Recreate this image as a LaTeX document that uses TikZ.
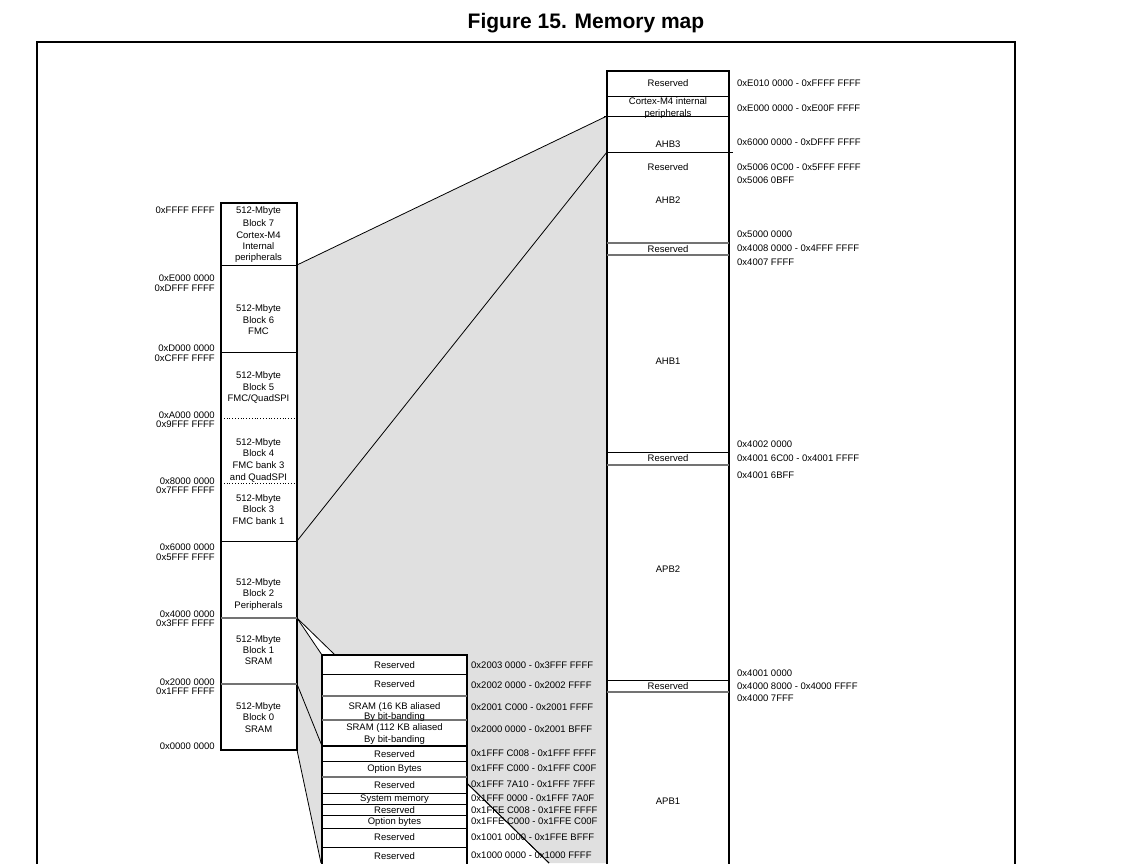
\documentclass[tikz,border=0pt]{standalone}
\usepackage{fontspec}
\setmainfont{Liberation Sans}
\usetikzlibrary{calc}
\begin{document}
\begin{tikzpicture}[x=1pt,y=-1pt,
  txt/.style={font=\fontsize{9.5}{11}\selectfont, inner sep=0pt, text height=7pt, text depth=0pt},
  addrL/.style={txt, anchor=east},
  addrR/.style={txt, anchor=west},
  shade/.style={fill=black!12},
  frame/.style={line width=2pt},
  boxline/.style={line width=1.7pt},
  sep/.style={line width=0.8pt},
  gsep/.style={line width=1.2pt, black!55},
  conn/.style={line width=0.8pt},
  dotsep/.style={line width=0.8pt, dotted}]
\useasboundingbox (0,0) rectangle (1136,863);
\clip (0,0) rectangle (1136,863);

% title
\node[font=\bfseries\fontsize{21}{24}\selectfont, inner sep=0pt] (title) at (586,23) {Figure 15. Memory map};

% outer frame
\draw[frame] (37,870) -- (37,42) -- (1015,42) -- (1015,870);

% connector coordinates
\coordinate (b7b) at (297,265);
\coordinate (rA) at (607,116);
\coordinate (b3b) at (297,541);
\coordinate (rB) at (607,152);
\coordinate (b2b) at (297,618);
\coordinate (dEnd) at (549,863);
\coordinate (rBot) at (607,863);
\coordinate (mTL) at (322,655);
\coordinate (b1b) at (297,684);
\coordinate (mML) at (322,746);
\coordinate (mBot) at (322,863);
\coordinate (b0b) at (297,750);
\coordinate (lEnd) at (321,863);
\coordinate (dMid) at ($(b2b)!0.675!(dEnd)$);

% gray expansion areas
\fill[shade] (b7b) -- (rA) -- (rBot) -- (dEnd) -- (b2b) -- cycle;
\fill[shade] (b2b) -- (mTL) -- (mBot) -- (lEnd) -- (b0b) -- cycle;

% connectors
\draw[conn] (b7b) -- (rA);
\draw[conn] (b3b) -- (rB);
\draw[conn] (b2b) -- (dEnd);
\draw[conn] (b2b) -- (mTL);
\draw[conn] (b1b) -- (mML);
\draw[conn] (b0b) -- (lEnd);

% ---------- left column ----------
\draw[boxline, fill=white] (221,203) rectangle (297,750);
\draw[sep] (221,265) -- (297,265);
\draw[sep] (221,352) -- (297,352);
\draw[dotsep] (221,418) -- (297,418);
\draw[dotsep] (221,483) -- (297,483);
\draw[sep] (221,541) -- (297,541);
\draw[gsep] (221,618) -- (297,618);
\draw[gsep] (221,684) -- (297,684);

\foreach \t/\y [count=\i] in {0xFFFF FFFF/210, 0xE000 0000/277.5, 0xDFFF FFFF/287.5,
  0xD000 0000/347.5, 0xCFFF FFFF/357.5, 0xA000 0000/414.5, 0x9FFF FFFF/423.5,
  0x8000 0000/480.5, 0x7FFF FFFF/489.5, 0x6000 0000/546.5, 0x5FFF FFFF/556.5,
  0x4000 0000/614, 0x3FFF FFFF/623, 0x2000 0000/682, 0x1FFF FFFF/691, 0x0000 0000/746}
  \node[addrL] (la\i) at (215,\y) {\t};

\foreach \t/\y [count=\i] in {512-Mbyte/210, Block 7/222.5, Cortex-M4/234.5, Internal/246, peripherals/257,
  512-Mbyte/308, Block 6/319.5, FMC/331,
  512-Mbyte/375, Block 5/386.5, {FMC/QuadSPI}/397.5,
  512-Mbyte/442, Block 4/453, FMC bank 3/465, and QuadSPI/477,
  512-Mbyte/497.5, Block 3/509, FMC bank 1/521,
  512-Mbyte/582, Block 2/593, Peripherals/604.5,
  512-Mbyte/639, Block 1/650, SRAM/661,
  512-Mbyte/706, Block 0/717, SRAM/728.5}
  \node[txt] (lb\i) at (258.5,\y) {\t};

% ---------- right column ----------
\draw[boxline, fill=white] (607,71) rectangle (729,880);
\draw[sep] (607,96) -- (729,96);
\draw[sep] (604,116) -- (729,116);
\draw[sep] (607,152) -- (733,152);
\draw[gsep] (607,243) -- (729,243);
\draw[gsep] (607,255) -- (729,255);
\draw[sep] (607,452) -- (729,452);
\draw[gsep] (607,465) -- (729,465);
\draw[sep] (607,680) -- (729,680);
\draw[gsep] (607,692) -- (729,692);

\foreach \t/\y [count=\i] in {Reserved/82.5, Cortex-M4 internal/101, peripherals/112.5,
  AHB3/143.5, Reserved/167, AHB2/199.5, Reserved/248.5, AHB1/360.5, Reserved/457.5,
  APB2/568.5, Reserved/685.5, APB1/801}
  \node[txt] (rb\i) at (668,\y) {\t};

\foreach \t/\y [count=\i] in {0xE010 0000 - 0xFFFF FFFF/82.5, 0xE000 0000 - 0xE00F FFFF/108,
  0x6000 0000 - 0xDFFF FFFF/141.5, 0x5006 0C00 - 0x5FFF FFFF/166.5, 0x5006 0BFF/180,
  0x5000 0000/233.5, 0x4008 0000 - 0x4FFF FFFF/248, 0x4007 FFFF/261.5,
  0x4002 0000/444, 0x4001 6C00 - 0x4001 FFFF/457.5, 0x4001 6BFF/474.5,
  0x4001 0000/673, 0x4000 8000 - 0x4000 FFFF/685.5, 0x4000 7FFF/697.5}
  \node[addrR] (ra\i) at (737,\y) {\t};

% ---------- middle column ----------
\fill[white] (322,746) rectangle (467,880);
\draw[boxline] (322,746) -- (322,880);
\draw[line width=1.2pt] (467,746) -- (467,880);
\draw[sep] (322,761) -- (467,761);
\draw[gsep] (322,777) -- (467,777);
\draw[sep] (322,793) -- (467,793);
\draw[sep] (322,804) -- (467,804);
\draw[sep] (322,815) -- (467,815);
\draw[sep] (322,828) -- (467,828);
\draw[sep] (322,847) -- (467,847);
\draw[boxline, fill=white] (322,655) rectangle (467,746);
\draw[sep] (322,674) -- (467,674);
\draw[gsep] (322,696) -- (467,696);
\draw[gsep, line width=1.6pt] (322,720) -- (467,720);

\foreach \t/\y [count=\i] in {Reserved/665, Reserved/683.5, SRAM (16 KB aliased/705.5, By bit-banding/716,
  SRAM (112 KB aliased/726.5, By bit-banding/739,
  Reserved/754, Option Bytes/768, Reserved/784.5, System memory/798, Reserved/809.5,
  Option bytes/821, Reserved/836.5, Reserved/856}
  \node[txt] (mb\i) at (394.5,\y) {\t};

\foreach \t/\y [count=\i] in {0x2003 0000 - 0x3FFF FFFF/665, 0x2002 0000 - 0x2002 FFFF/684.5,
  0x2001 C000 - 0x2001 FFFF/706.5, 0x2000 0000 - 0x2001 BFFF/728.5,
  0x1FFF C008 - 0x1FFF FFFF/753, 0x1FFF C000 - 0x1FFF C00F/768, 0x1FFF 7A10 - 0x1FFF 7FFF/784,
  0x1FFF 0000 - 0x1FFF 7A0F/797.5, 0x1FFE C008 - 0x1FFE FFFF/809.5, 0x1FFE C000 - 0x1FFE C00F/821,
  0x1001 0000 - 0x1FFE BFFF/837, 0x1000 0000 - 0x1000 FFFF/855}
  \node[addrR] (ma\i) at (471,\y) {\t};

% diagonal over the lower address labels (only right of the middle box)
\draw[conn] (dMid) -- (dEnd);
\end{tikzpicture}
\end{document}
